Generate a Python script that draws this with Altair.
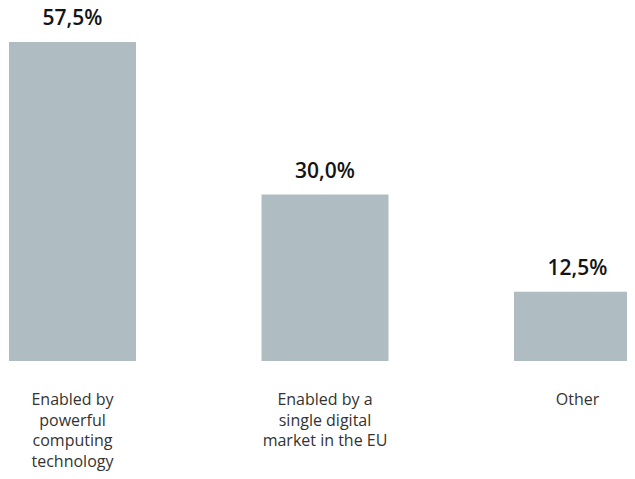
import altair as alt
import pandas as pd

categories = [
    "Enabled by\npowerful\ncomputing\ntechnology",
    "Enabled by a\nsingle digital\nmarket in the EU",
    "Other",
]
values = [57.5, 30.0, 12.5]
labels = [f"{v:.1f}".replace(".", ",") + "%" for v in values]

df = pd.DataFrame({"cat": categories, "value": values, "label": labels})

PAD_TOP = 8
W, H = 619, 463 - PAD_TOP
BAR_COLOR = "#afbdc2"

x = alt.X(
    "cat:N",
    sort=categories,
    axis=None,
    scale=alt.Scale(range=[1, 633], paddingInner=0.497, paddingOuter=0),
)
y_scale = alt.Scale(domain=[0, 57.5], range=[353 - PAD_TOP, 34 - PAD_TOP], nice=False, zero=True)

base = alt.Chart(df)

bars = base.mark_bar(color=BAR_COLOR, clip=True).encode(
    x=x,
    y=alt.Y("value:Q", scale=y_scale, axis=None),
)

vals = base.mark_text(
    dy=-17, baseline="alphabetic", align="center",
    fontSize=21, fontWeight=600, font="Open Sans", color="#141414",
).encode(
    x=x,
    y=alt.Y("value:Q", scale=y_scale, axis=None),
    text="label:N",
)

cats = base.mark_text(
    baseline="alphabetic", align="center", lineBreak="\n", lineHeight=20.5,
    fontSize=16, font="Open Sans", color="#333333",
).encode(
    x=x,
    y=alt.value(397 - PAD_TOP),
    text="cat:N",
)

chart = (
    alt.layer(bars, vals, cats)
    .properties(
        width=W, height=H,
        autosize=alt.AutoSizeParams(type="none"),
        padding={"top": PAD_TOP, "left": 0, "right": 0, "bottom": 0},
        background="white",
    )
    .configure_view(stroke=None)
)

chart.save("out.html", embed_options={"renderer": "svg", "actions": False})
